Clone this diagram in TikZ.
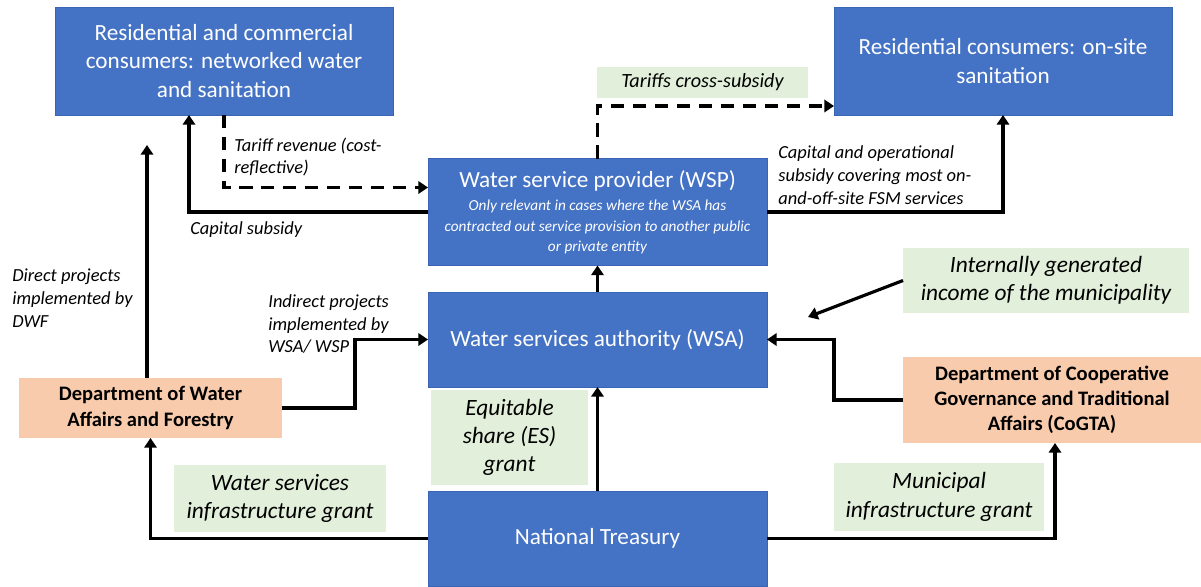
\documentclass[tikz,border=0pt]{standalone}
\usepackage{fontspec}
\setmainfont{Carlito}
\usetikzlibrary{arrows.meta,calc}
\definecolor{boxblue}{HTML}{4472C4}
\definecolor{boxedge}{HTML}{3A65B5}
\definecolor{deptorange}{HTML}{F8CBAD}
\definecolor{grantgreen}{HTML}{E2EFDA}
\begin{document}
\begin{tikzpicture}[x=0.02cm,y=-0.02cm,
  actor/.style={fill=boxblue, draw=boxedge, line width=0.5pt, text=white, align=center,
    inner sep=0pt, outer sep=0pt, font=\fontsize{13.2}{16}\selectfont},
  dept/.style={fill=deptorange, align=center, inner sep=0pt, outer sep=0pt,
    font=\fontsize{11.7}{14.3}\selectfont\bfseries},
  grant/.style={fill=grantgreen, align=center, inner sep=0pt, outer sep=0pt,
    font=\fontsize{13.3}{16.1}\selectfont\itshape},
  note/.style={align=left, inner sep=0pt, anchor=west, font=\fontsize{10.5}{13}\selectfont\itshape},
  flow/.style={line width=1.8pt, -{Triangle[length=5.5pt,width=7pt]}},
  revenue/.style={flow, dash pattern=on 7.5pt off 5pt},
]
\fill[white] (0,0) rectangle (1201,586);
\useasboundingbox (0,0) rectangle (1201,586);

% actors
\node[actor, minimum width=6.76cm, minimum height=2.16cm] (rc) at (224,61)
  {Residential and commercial\\consumers: networked water\\and sanitation};
\node[actor, minimum width=6.76cm, minimum height=2.16cm] (ro) at (1003,61)
  {Residential consumers: on-site\\sanitation};
\node[actor, minimum width=6.78cm, minimum height=2.14cm] (wsp) at (597.5,212)
  {Water service provider (WSP)\\[-2.5pt]
   \fontsize{8.7}{10.5}\selectfont\itshape Only relevant in cases where the WSA has\\[-4.5pt]
   \fontsize{8.7}{10.5}\selectfont\itshape contracted out service provision to another public\\[-4.5pt]
   \fontsize{8.7}{10.5}\selectfont\itshape or private entity};
\node[actor, minimum width=6.78cm, minimum height=1.90cm] (wsa) at (597.5,339.5)
  {Water services authority (WSA)};
\node[actor, minimum width=6.78cm, minimum height=1.90cm] (nt) at (597.5,538.5)
  {National Treasury};

% departments
\node[dept, minimum width=5.26cm, minimum height=1.20cm] (dwaf) at (150.5,408)
  {Department of Water\\Affairs and Forestry};
\node[dept, minimum width=5.96cm, minimum height=1.72cm] (cogta) at (1052,400)
  {Department of Cooperative\\Governance and Traditional\\Affairs (CoGTA)};

% grants and income sources
\node[grant, minimum width=4.22cm, minimum height=0.62cm, font=\fontsize{11.5}{14}\selectfont\itshape]
  (gts) at (702.5,82.5) {Tariffs cross-subsidy};
\node[grant, minimum width=5.72cm, minimum height=1.30cm] (gig) at (1046,280.5)
  {Internally generated\\income of the municipality};
\node[grant, minimum width=3.14cm, minimum height=1.90cm] (ges) at (509.5,437.5)
  {Equitable\\share (ES)\\grant};
\node[grant, minimum width=4.24cm, minimum height=1.34cm] (gws) at (280,498.5)
  {Water services\\infrastructure grant};
\node[grant, minimum width=4.20cm, minimum height=1.36cm] (gmi) at (939,497)
  {Municipal\\infrastructure grant};

% flow labels
\node[note] (ltr) at (234,157) {Tariff revenue (cost-\\reflective)};
\node[note] (lcs) at (190,230) {Capital subsidy};
\node[note] (ldp) at (12,298) {Direct projects\\implemented by\\DWF};
\node[note] (lip) at (268,324) {Indirect projects\\implemented by\\WSA/ WSP};
\node[note] (lco) at (778,175) {Capital and operational\\subsidy covering most on-\\and-off-site FSM services};

% money flows
\draw[flow] (nt.west) -| (dwaf.south);
\draw[flow] (nt.east) -| ($(cogta.south)+(3,0)$);
\draw[flow] (nt.north) -- (wsa.south);
\draw[flow] (wsa.north) -- (wsp.south);
\draw[flow] (dwaf.east) -- ++(73,0) |- (wsa.west);
\draw[flow] (cogta.west) -- ++(-69,0) |- (wsa.east);
\coordinate (dwfend) at (147,145);
\draw[flow] (dwaf.north -| dwfend) -- (dwfend);
\coordinate (igend) at (808,317);
\draw[flow] (gig.west) -- (igend);
\draw[flow] (wsp.west) -| ($(rc.south)+(-35,0)$);
\draw[flow] (wsp.east) -| (ro.south);
\draw[revenue] (rc.south) |- ($(wsp.west)+(0,-24.5)$);
\draw[revenue] (wsp.north) |- ($(ro.south west)+(0,-9)$);
\end{tikzpicture}
\end{document}
